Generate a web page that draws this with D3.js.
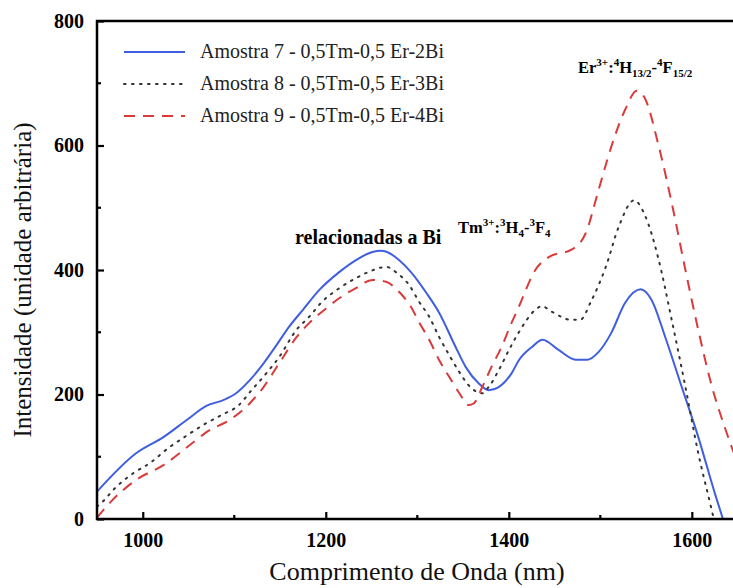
<!DOCTYPE html>
<html><head><meta charset="utf-8">
<script src="https://cdn.jsdelivr.net/npm/d3@7"></script>
<style>body{margin:0;background:#fff}svg{display:block}</style>
</head><body>
<svg id="c" width="733" height="588" font-family="Liberation Serif, serif"></svg>
<script>
const xTicks = [1000, 1200, 1400, 1600];
const xMinor = [1100, 1300, 1500];
const yTicks = [0, 200, 400, 600, 800];
const yMinor = [100, 300, 500, 700];
const seriesNames = ["Amostra 7 - 0,5Tm-0,5 Er-2Bi", "Amostra 8 - 0,5Tm-0,5 Er-3Bi", "Amostra 9 - 0,5Tm-0,5 Er-4Bi"];
const wl7 = [950,993,1023,1048,1070,1088,1102,1117,1132,1146,1160,1175,1193,1215,1233,1251,1260,1267,1280,1294,1310,1324,1342,1353,1367,1378,1389,1403,1411,1425,1437,1454,1473,1486,1498,1512,1527,1544,1556,1571,1589,1607,1625,1634];
const int7 = [44,106,132,159,182,191,202,223,250,279,309,336,368,397,416,429,431,429,416,395,363,331,276,244,218,207,212,234,255,276,288,272,256,256,268,299,347,369,352,292,212,132,42,0];
const wl8 = [950,957,968,990,1008,1028,1046,1066,1086,1105,1119,1135,1149,1168,1182,1196,1215,1233,1247,1266,1278,1291,1302,1313,1324,1335,1346,1356,1371,1378,1389,1400,1411,1429,1436,1447,1468,1478,1490,1506,1520,1537,1549,1563,1578,1593,1607,1621,1624];
const int8 = [20,29,47,74,90,114,132,151,167,183,207,234,260,304,325,349,371,387,397,405,395,376,349,325,292,263,236,215,202,212,239,271,300,336,342,333,320,320,350,405,469,512,487,421,320,212,106,19,0];
const wl9 = [950,964,993,1023,1056,1070,1095,1117,1132,1149,1168,1182,1201,1215,1233,1251,1266,1280,1293,1302,1313,1324,1335,1346,1356,1362,1371,1381,1392,1403,1411,1429,1444,1469,1484,1498,1512,1527,1540,1549,1563,1578,1593,1607,1621,1637,1650];
const int9 = [2,26,63,87,124,140,159,186,212,250,292,315,339,355,371,384,381,365,341,316,288,255,228,202,183,186,212,244,276,315,341,400,421,433,459,528,598,657,688,675,604,508,400,304,218,143,90];
const colors = ["#3f5fe0", "#333333", "#d93a3a"];
const dashes = [null, "1.6,6.4", "11,8"];

const svg = d3.select("#c");
const FF = "Liberation Serif, Times New Roman, serif";
const L = 97, R = 733, T = 21, B = 519;
const x = d3.scaleLinear().domain([950, 1645]).range([L, R]);
const y = d3.scaleLinear().domain([0, 800]).range([B, T]);

svg.append("clipPath").attr("id","clip").append("rect").attr("x",L).attr("y",T).attr("width",R-L).attr("height",B-T);

const series = [[wl7,int7],[wl8,int8],[wl9,int9]];
const line = d3.line().x(d=>x(d[0])).y(d=>y(d[1])).curve(d3.curveMonotoneX);
const g = svg.append("g").attr("clip-path","url(#clip)");
series.forEach((s,i)=>{
  const pts = s[0].map((w,k)=>[w,s[1][k]]);
  g.append("path").datum(pts).attr("d",line).attr("fill","none")
   .attr("stroke",colors[i]).attr("stroke-width",2)
   .attr("stroke-linecap", i===1?"round":"butt")
   .attr("stroke-dasharray",dashes[i]);
});

// axes
const xAxis = d3.axisBottom(x).tickValues(xTicks).tickSize(-7).tickPadding(14).tickFormat(d3.format("d"));
const gx = svg.append("g").attr("transform",`translate(0,${B})`).call(xAxis);
const yAxis = d3.axisLeft(y).tickValues(yTicks).tickSize(-7).tickPadding(13).tickFormat(d3.format("d"));
const gy = svg.append("g").attr("transform",`translate(${L},0)`).call(yAxis);
[gx,gy].forEach(a=>{
  a.attr("font-family",FF);
  a.select(".domain").remove();
  a.selectAll("line").attr("stroke","#000").attr("stroke-width",2.2);
  a.selectAll("text").attr("font-family",FF).attr("font-weight","bold").attr("font-size",20).attr("fill","#000");
});
gx.selectAll("text").attr("dy","0.71em");
svg.append("g").selectAll("line").data(xMinor).join("line")
  .attr("x1",d=>x(d)).attr("x2",d=>x(d)).attr("y1",B).attr("y2",B-4).attr("stroke","#000").attr("stroke-width",2.2);
svg.append("g").selectAll("line").data(yMinor).join("line")
  .attr("x1",L).attr("x2",L+4).attr("y1",d=>y(d)).attr("y2",d=>y(d)).attr("stroke","#000").attr("stroke-width",2.2);
// frame
svg.append("path").attr("d",`M${R},${T}H${L}V${B}H${R}`).attr("fill","none").attr("stroke","#000").attr("stroke-width",2.5);

// axis titles
svg.append("text").attr("x",417).attr("y",580).attr("text-anchor","middle").attr("font-family",FF).attr("font-size",26).attr("fill","#111").text("Comprimento de Onda (nm)");
svg.append("text").attr("transform","translate(31,280) rotate(-90)").attr("text-anchor","middle").attr("font-family",FF).attr("font-size",25).attr("fill","#111").text("Intensidade (unidade arbitrária)");

// legend
const leg = svg.append("g");
seriesNames.forEach((n,i)=>{
  const yy = 52 + i*32;
  leg.append("line").attr("x1",124).attr("x2",185).attr("y1",yy).attr("y2",yy)
    .attr("stroke",colors[i]).attr("stroke-width",2).attr("stroke-linecap",i===1?"round":"butt").attr("stroke-dasharray",dashes[i]);
  leg.append("text").attr("x",200).attr("y",yy+6).attr("font-family",FF).attr("font-size",20).attr("fill","#222").text(n);
});

// annotations
svg.append("text").attr("x",295).attr("y",244).attr("font-family",FF).attr("font-size",20).attr("font-weight","bold").text("relacionadas a Bi");
function ann(xp, yp, parts){
  const t = svg.append("text").attr("x",xp).attr("y",yp).attr("font-family",FF).attr("font-size",16.5).attr("font-weight","bold");
  parts.forEach(p=>{
    const ts = t.append("tspan").text(p[0]);
    if(p[1]==="sup") ts.attr("font-size",11).attr("dy",-7);
    else if(p[1]==="sub") ts.attr("font-size",11).attr("dy",4);
    if(p[2]) ts.attr("dy", p[2]);
  });
}
ann(458,233,[["Tm"],["3+","sup"],[":",null,7],["3","sup",-7],["H",null,7],["4","sub"],["-",null,-4],["3","sup",-7],["F",null,7],["4","sub"]]);
ann(578,73,[["Er"],["3+","sup"],[":",null,7],["4","sup",-7],["H",null,7],["13/2","sub"],["-",null,-4],["4","sup",-7],["F",null,7],["15/2","sub"]]);
</script>
</body></html>
